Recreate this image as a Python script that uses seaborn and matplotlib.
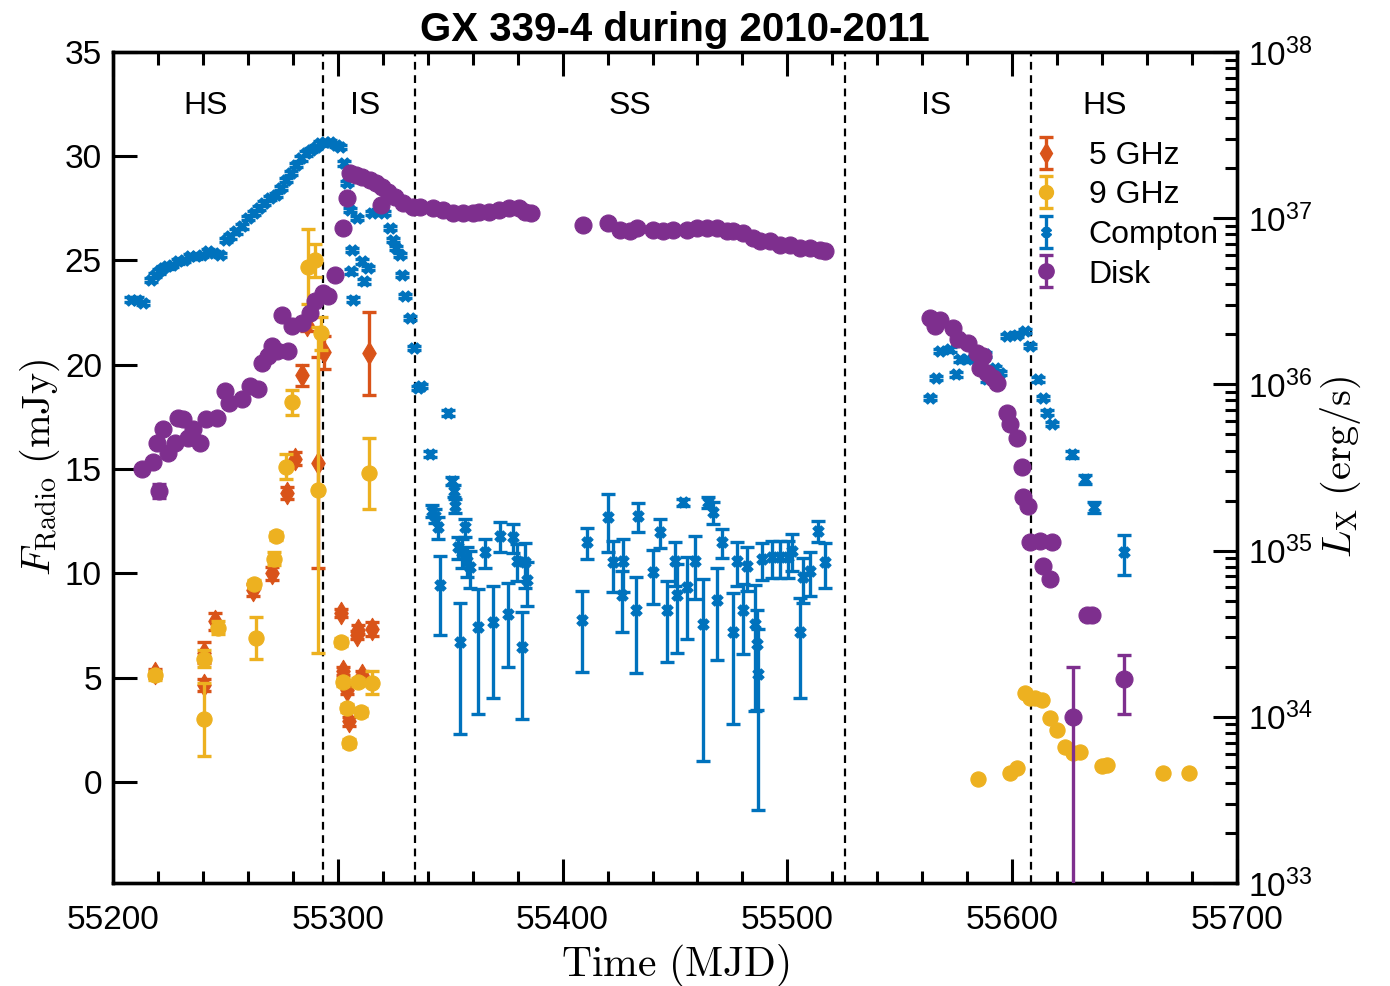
import numpy as np
import pandas as pd
import matplotlib
matplotlib.use("Agg")
import matplotlib.pyplot as plt
import seaborn as sns
from matplotlib.ticker import MultipleLocator, LogLocator, NullFormatter

# ---- radio data (mJy) ----
ghz5_mjd = [55218.7, 55240.5, 55240.5, 55245.5, 55262.3, 55270.7, 55277.4, 55281.0, 55284.0,
            55286.5, 55291.0, 55294.0, 55301.4, 55302.3, 55304.1, 55305.0, 55308.5, 55309.0,
            55310.8, 55315.2, 55313.9]
ghz5_flux = [5.2, 6.2, 4.65, 7.7, 9.2, 10.0, 13.85, 15.5, 19.5,
             21.9, 15.3, 20.6, 8.1, 5.3, 4.4, 2.9, 7.05, 7.3,
             5.1, 7.33, 20.55]
ghz5_err = [0.2, 0.5, 0.3, 0.4, 0.3, 0.3, 0.3, 0.3, 0.5,
            0.3, 5.05, 0.8, 0.2, 0.2, 0.2, 0.2, 0.2, 0.2,
            0.2, 0.35, 2.0]

ghz9_mjd = [55218.7, 55240.5, 55240.5, 55246.5, 55263.6, 55262.5, 55271.5, 55272.5, 55276.9,
            55279.5, 55286.7, 55290.0, 55291.0, 55292.5, 55301.4, 55302.3, 55304.1, 55305.0,
            55309.0, 55310.3, 55315.2, 55314.0,
            55584.8, 55599.0, 55602.1, 55605.7, 55607.9, 55610.1, 55613.3, 55616.8, 55619.9,
            55623.5, 55627.0, 55630.2, 55640.0, 55642.2, 55667.1, 55678.6]
ghz9_flux = [5.1, 5.9, 3.0, 7.4, 6.9, 9.5, 10.7, 11.8, 15.1,
             18.2, 24.7, 25.0, 14.0, 21.5, 6.7, 4.8, 3.55, 1.87,
             4.8, 3.35, 4.75, 14.8,
             0.14, 0.43, 0.67, 4.27, 4.03, 4.03, 3.93, 3.07, 2.49,
             1.68, 1.39, 1.44, 0.77, 0.81, 0.43, 0.43]
ghz9_err = [0.2, 0.4, 1.75, 0.3, 1.0, 0.2, 0.3, 0.2, 0.6,
            0.6, 1.8, 0.8, 7.8, 0.8, 0.2, 0.2, 0.2, 0.2,
            0.2, 0.2, 0.55, 1.7,
            0.05, 0.05, 0.05, 0.05, 0.05, 0.05, 0.05, 0.05, 0.05,
            0.05, 0.05, 0.05, 0.05, 0.05, 0.05, 0.05]

# ---- X-ray luminosities: log10(L / erg s^-1) and relative error ----
compton_mjd = [55208.0, 55210.7, 55213.3, 55216.9, 55218.7, 55220.5, 55222.2, 55224.0, 55226.2, 55228.9,
               55231.6, 55234.3, 55236.9, 55239.6, 55242.3, 55244.9, 55247.6, 55250.3, 55252.0, 55254.7,
               55257.4, 55260.1, 55262.7, 55264.9, 55267.2, 55269.8, 55272.5, 55274.7, 55277.0, 55279.2,
               55281.4, 55283.6, 55285.9, 55288.1, 55290.3, 55292.1, 55294.3, 55296.5, 55299.2, 55301.0,
               55302.8, 55304.1, 55305.4, 55306.3, 55305.8, 55306.8, 55308.5, 55310.8, 55311.7, 55313.4,
               55315.2, 55317.9, 55320.6, 55323.2, 55324.6, 55325.9, 55327.7, 55328.6, 55329.9, 55332.1,
               55333.9, 55335.7, 55337.0,
               55341.0, 55341.9, 55343.2, 55344.6, 55345.5, 55349.0, 55350.8, 55351.5, 55352.2, 55353.5,
               55354.4, 55355.2, 55356.6, 55357.5, 55358.8, 55362.4, 55365.5, 55369.0, 55372.2, 55375.7,
               55377.9, 55379.7, 55381.9, 55383.3, 55384.2,
               55408.6, 55410.9, 55420.2, 55422.4, 55426.4, 55426.9, 55432.7, 55433.5, 55440.2, 55443.3,
               55446.4, 55450.0, 55450.9, 55453.6, 55455.3, 55458.9, 55462.5, 55464.7, 55466.9, 55468.7,
               55470.9, 55475.8, 55477.6, 55480.2, 55482.0, 55485.6, 55486.5, 55486.9, 55488.7, 55493.1,
               55496.7, 55500.3, 55502.0, 55505.6, 55506.9, 55510.1, 55513.6, 55516.7,
               55563.4, 55566.1, 55567.9, 55572.3, 55575.0, 55576.8, 55579.9, 55583.4, 55587.9, 55588.8,
               55592.3, 55594.6, 55597.7, 55602.1, 55605.7, 55607.9, 55611.5, 55613.7, 55615.5, 55617.7,
               55626.6, 55632.4, 55636.4, 55649.7]
compton_logL = [36.51, 36.51, 36.49, 36.63, 36.66, 36.68, 36.70, 36.71, 36.72, 36.74,
                36.75, 36.77, 36.77, 36.78, 36.80, 36.79, 36.78, 36.87, 36.89, 36.92,
                36.95, 37.00, 37.03, 37.06, 37.09, 37.12, 37.14, 37.18, 37.23, 37.27,
                37.32, 37.36, 37.39, 37.41, 37.43, 37.45, 37.46, 37.46, 37.44, 37.43,
                37.33, 37.21, 37.05, 36.81, 36.68, 36.51, 37.00, 36.74, 36.62, 36.70,
                37.03, 37.04, 37.03, 36.94, 36.87, 36.82, 36.78, 36.66, 36.53, 36.40,
                36.22, 35.98, 35.99,
                35.58, 35.24, 35.21, 35.14, 34.79, 35.83, 35.42, 35.36, 35.27, 35.02,
                34.45, 34.99, 35.14, 34.94, 34.90, 34.54, 34.99, 34.57, 35.09, 34.62,
                35.08, 34.94, 34.42, 34.93, 34.82,
                34.58, 35.05, 35.20, 34.93, 34.73, 34.94, 34.64, 35.21, 34.87, 35.11,
                34.64, 34.94, 34.73, 35.29, 34.78, 34.94, 34.56, 35.29, 35.23, 34.70,
                35.05, 34.51, 34.94, 34.64, 34.91, 34.56, 34.44, 34.26, 34.95, 34.96,
                34.96, 34.96, 35.00, 34.51, 34.84, 34.88, 35.12, 34.93,
                35.92, 36.04, 36.20, 36.21, 36.06, 36.15, 36.15, 36.16, 36.18, 36.03,
                36.10, 36.07, 36.29, 36.30, 36.32, 36.23, 36.03, 35.92, 35.83, 35.76,
                35.58, 35.43, 35.26, 34.99]
compton_relerr = [0.03] * 63 + [
                0.04, 0.08, 0.10, 0.15, 0.50, 0.04, 0.06, 0.08, 0.10, 0.15,
                0.72, 0.20, 0.12, 0.20, 0.25, 0.70, 0.20, 0.65, 0.20, 0.52,
                0.20, 0.25, 0.63, 0.30, 0.30,
                0.51, 0.21, 0.38, 0.34, 0.40, 0.35, 0.58, 0.20, 0.36, 0.20,
                0.51, 0.30, 0.55, 0.05, 0.51, 0.41, 0.85, 0.08, 0.15, 0.56,
                0.20, 0.72, 0.30, 0.45, 0.30, 0.70, 0.60, 0.85, 0.25, 0.25,
                0.25, 0.25, 0.25, 0.60, 0.30, 0.30, 0.15, 0.30] + [0.03] * 20 + [0.05, 0.06, 0.07, 0.27]

disk_mjd = [55212.9, 55217.8, 55219.6, 55220.5, 55222.2, 55224.5, 55227.6, 55228.9, 55231.1, 55233.4,
            55235.6, 55238.7, 55241.4, 55246.3, 55249.8, 55251.6, 55257.4, 55260.9, 55264.5, 55266.3,
            55269.0, 55270.7, 55273.0, 55275.2, 55277.8, 55279.6, 55284.1, 55287.6, 55289.9, 55293.4,
            55295.6, 55298.8, 55302.3, 55304.1, 55305.4, 55308.1, 55310.8, 55314.3, 55317.0, 55319.7,
            55319.0, 55322.3, 55325.4, 55329.0, 55333.5, 55336.6,
            55342.3, 55346.8, 55351.2, 55355.7, 55360.1, 55362.8, 55367.2, 55371.7, 55376.2, 55380.6,
            55383.3, 55385.8,
            55409.1, 55420.2, 55425.5, 55429.9, 55433.1, 55440.2, 55444.6, 55449.1, 55455.3, 55459.8,
            55464.2, 55468.7, 55473.1, 55475.8, 55480.2, 55484.7, 55487.8, 55492.3, 55496.7, 55501.2,
            55505.6, 55510.1, 55514.5, 55516.7,
            55563.4, 55565.7, 55567.9, 55573.7, 55575.9, 55580.3, 55584.3, 55585.7, 55587.0, 55588.8,
            55591.5, 55593.2, 55597.7, 55599.0, 55602.1, 55604.4, 55604.8, 55607.0, 55607.9, 55612.4,
            55613.7, 55616.8, 55617.7, 55627.0, 55633.3, 55635.5, 55649.7]
disk_logL = [35.49, 35.53, 35.65, 35.36, 35.73, 35.59, 35.65, 35.80, 35.79, 35.68,
             35.73, 35.65, 35.79, 35.80, 35.96, 35.89, 35.91, 35.99, 35.97, 36.13,
             36.17, 36.23, 36.20, 36.42, 36.20, 36.35, 36.37, 36.43, 36.50, 36.55,
             36.53, 36.66, 36.94, 37.12, 37.27, 37.26, 37.25, 37.23, 37.21, 37.19,
             37.08, 37.16, 37.13, 37.09, 37.07, 37.07,
             37.06, 37.05, 37.03, 37.03, 37.03, 37.04, 37.04, 37.05, 37.06, 37.06,
             37.04, 37.03,
             36.96, 36.97, 36.93, 36.92, 36.94, 36.93, 36.92, 36.93, 36.93, 36.94,
             36.94, 36.94, 36.92, 36.92, 36.91, 36.88, 36.86, 36.86, 36.84, 36.84,
             36.82, 36.82, 36.81, 36.80,
             36.40, 36.35, 36.39, 36.34, 36.27, 36.25, 36.19, 36.10, 36.17, 36.07,
             36.04, 36.01, 35.83, 35.76, 35.68, 35.50, 35.32, 35.27, 35.05, 35.06,
             34.91, 34.83, 35.05, 34.00, 34.61, 34.61, 34.23]
disk_relerr = [0.03] * 3 + [0.10] + [0.03] * 101 + [0.98, 0.05, 0.05, 0.39]

state_edges = [55293.4, 55334.3, 55525.6, 55608.4]
state_names = ["HS", "IS", "SS", "IS", "HS"]
state_label_mjd = [55241, 55312, 55430, 55566, 55641]

colors = {"5 GHz": "#D95319", "9 GHz": "#EDB120", "Compton": "#0072BD", "Disk": "#7E2F8E"}

sns.set_theme(style="ticks")
plt.rcParams["font.family"] = ["Liberation Sans", "DejaVu Sans"]
plt.rcParams["mathtext.fontset"] = "cm"
plt.rcParams["axes.edgecolor"] = "black"
plt.rcParams["xtick.color"] = "black"
plt.rcParams["ytick.color"] = "black"
plt.rcParams["text.color"] = "black"
plt.rcParams["axes.labelcolor"] = "black"

FS = 24


def draw_series(ax, mjd, y, yerr, name, marker, size, z):
    # error bars with matplotlib, markers with seaborn
    col = colors[name]
    ax.errorbar(mjd, y, yerr=yerr, fmt="none", ecolor=col, elinewidth=2.4,
                capsize=5, capthick=2.4, zorder=z)
    df = pd.DataFrame({"mjd": mjd, "val": y})
    sns.scatterplot(data=df, x="mjd", y="val", ax=ax, color=col, marker=marker, s=size,
                    edgecolor=col, linewidth=0.8, zorder=z + 0.1, legend=False)


fig = plt.figure(figsize=(13.9, 9.86), dpi=100)
ax1 = fig.add_axes([0.0813, 0.1045, 0.8086, 0.8428])
ax2 = ax1.twinx()

draw_series(ax1, ghz5_mjd, ghz5_flux, ghz5_err, "5 GHz", "d", 130, 3)
draw_series(ax1, ghz9_mjd, ghz9_flux, ghz9_err, "9 GHz", "o", 120, 4)

c_L = 10 ** np.array(compton_logL)
d_L = 10 ** np.array(disk_logL)
draw_series(ax2, compton_mjd, c_L, c_L * np.array(compton_relerr), "Compton", "X", 65, 5)
draw_series(ax2, disk_mjd, d_L, d_L * np.array(disk_relerr), "Disk", "o", 150, 6)

for x in state_edges:
    ax1.axvline(x, color="black", ls=(0, (3.5, 2.5)), lw=1.6, zorder=1)
for x, s in zip(state_label_mjd, state_names):
    ax1.text(x, 32.4, s, ha="center", va="center", fontsize=FS - 1)

ax1.set_xlim(55200, 55700)
ax1.set_ylim(-4.85, 35)
ax1.set_yticks(range(0, 36, 5))
ax1.xaxis.set_major_locator(MultipleLocator(100))
ax1.xaxis.set_minor_locator(MultipleLocator(20))
ax1.tick_params(axis="x", which="both", direction="in", top=True, bottom=True,
                labelsize=FS, width=2.2, pad=16)
ax1.tick_params(axis="x", which="major", length=17)
ax1.tick_params(axis="x", which="minor", length=9)
ax1.tick_params(axis="y", which="major", direction="in", length=17, width=2.2,
                labelsize=FS, pad=8)

ax2.set_yscale("log")
ax2.set_ylim(1e33, 1e38)
ax2.set_yticks([1e33, 1e34, 1e35, 1e36, 1e37, 1e38])
ax2.yaxis.set_minor_locator(LogLocator(base=10, subs=np.arange(2, 10)))
ax2.yaxis.set_minor_formatter(NullFormatter())
ax2.tick_params(axis="y", which="major", direction="in", length=17, width=2.2,
                labelsize=FS, pad=8)
ax2.tick_params(axis="y", which="minor", direction="in", length=9, width=2.2)

for a in (ax1, ax2):
    for sp in a.spines.values():
        sp.set_linewidth(2.4)
        sp.set_color("black")

ax1.set_xlabel(r"$\mathrm{Time\ (MJD)}$", fontsize=30, labelpad=4)
ax1.set_ylabel(r"$F_{\mathrm{Radio}}\ (\mathrm{mJy})$", fontsize=29, labelpad=2)
ax2.set_ylabel(r"$L_{\mathrm{X}}\ (\mathrm{erg/s})$", fontsize=29, labelpad=4)
ax1.set_title("GX 339-4 during 2010-2011", fontsize=29, fontweight="bold", pad=8)

# legend proxies
handles = []
for name, marker, ms in [("5 GHz", "d", 10), ("9 GHz", "o", 10), ("Compton", "X", 7), ("Disk", "o", 11)]:
    h = ax2.errorbar([np.nan], [np.nan], yerr=[np.nan], fmt=marker, color=colors[name], ms=ms,
                     elinewidth=2.4, capsize=5, capthick=2.4, label=name)
    handles.append(h)
ax2.legend(handles=handles, loc="upper left", bbox_to_anchor=(0.797, 0.92), frameon=False,
           fontsize=FS - 1, handlelength=0.9, handletextpad=0.9, labelspacing=0.3,
           borderpad=0.2)

fig.savefig("out.png", dpi=100)
